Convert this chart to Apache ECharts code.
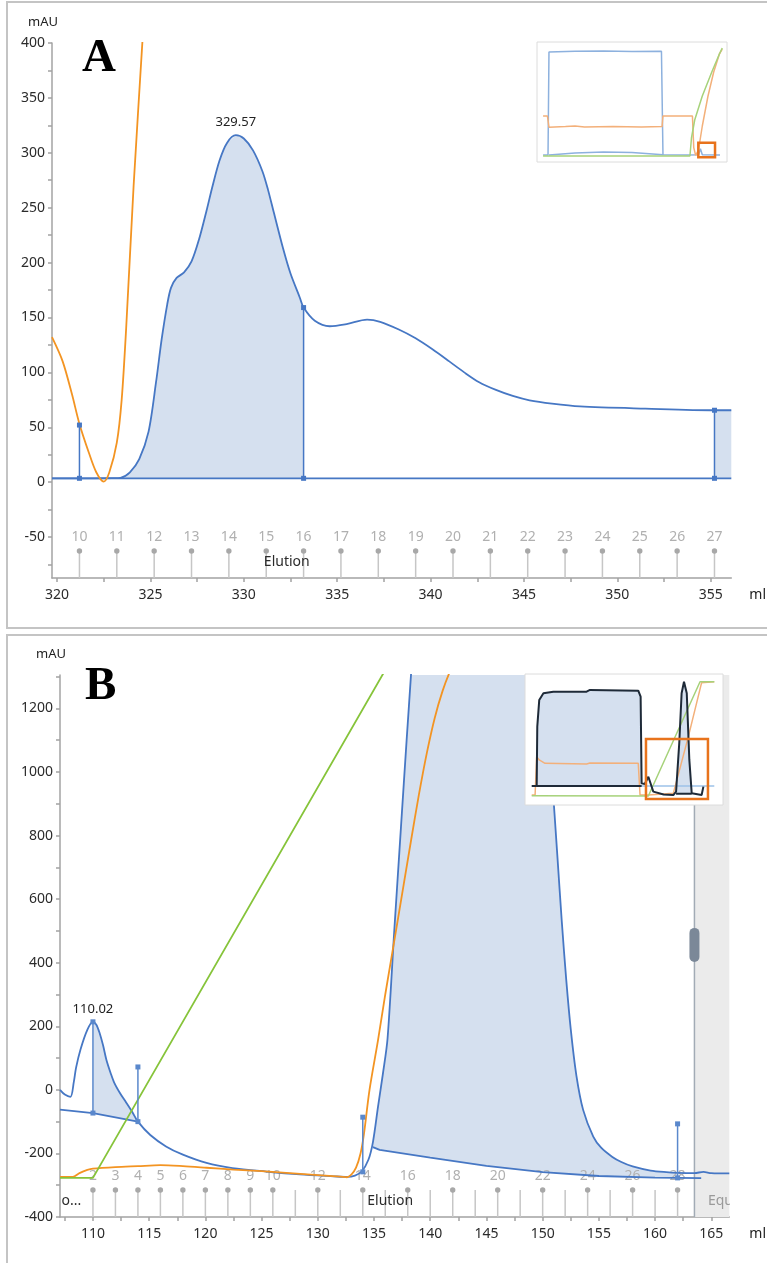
<!DOCTYPE html>
<html><head><meta charset="utf-8">
<script src="https://cdn.jsdelivr.net/npm/echarts@6/dist/echarts.min.js"></script>
<style>html,body{margin:0;padding:0;background:#fff}#c{width:767px;height:1263px}</style>
</head><body><div id="c"></div>
<script>
// ================= PANEL A DATA =================
const aUv = [[319.73,3.5],[321,3.5],[321.2,3.5],[322,3.5],[323,3.6],[323.4,4],[323.9,9],[324.4,21],[324.9,46],[325.3,91],[325.6,130],[325.9,162],[326.1,177],[326.4,186],[326.8,191],[327.2,201],[327.6,221],[328,247],[328.3,268],[328.7,293],[329.1,309],[329.57,316],[330,313],[330.5,302],[331,283],[331.3,266],[331.6,246],[332.1,213],[332.5,190],[333,168],[333.2,159],[333.8,147],[334.6,142],[335.5,144],[336.6,148],[337.3,146],[338.3,139],[339.2,131],[340.1,121],[341,110],[341.8,100],[342.6,91],[343.5,84],[344.4,78.5],[345.3,74.5],[346.5,71.5],[348,69],[351.5,67],[355.2,65.5],[356.1,65.5]];
const aBase = [[319.73,3.5],[321.2,3.5],[333.2,3.5],[355.2,3.5],[356.1,3.5]];
const aOrange = [[319.73,132],[320.3,110],[320.8,80],[321.2,53],[321.7,27],[322.1,9],[322.5,0.5],[322.8,9],[323.2,36],[323.46,75],[323.7,140],[324.1,270],[324.57,401],[324.7,440]];
const aFillRanges = [[321.2,333.2],[355.2,356.1]];
const aMarkers = [[321.2,3.5,52],[333.2,3.5,159],[355.2,3.5,65.5]];
const aPeakLabels = [[329.57,316,'329.57']];
const aFracX = [321.2,323.2,325.2,327.2,329.2,331.2,333.2,335.2,337.2,339.2,341.2,343.2,345.2,347.2,349.2,351.2,353.2,355.2];
const aFracLabels = ['10','11','12','13','14','15','16','17','18','19','20','21','22','23','24','25','26','27'];
const aPhases = [['Elution',332.3,'center']];
const aXLabels = [320,325,330,335,340,345,350,355];
const aXTicks = [320,322.5,325,327.5,330,332.5,335,337.5,340,342.5,345,347.5,350,352.5,355];
const aYLabels = [-50,0,50,100,150,200,250,300,350,400];
const aYTicks = [-75,-50,-25,0,25,50,75,100,125,150,175,200,225,250,275,300,325,350,375,400];

// inset A (overview, units = percent of inset box)
const insAblue = [[3.2,5.8],[5.8,5.8],[6.3,91.7],[7,92.5],[20,92.3],[35,92.6],[50,92],[65.5,92.3],[66.3,6],[80,5.8],[85,6],[86,11],[87,6],[96.3,5.8]];
const insAblueBase = [[6.3,5.8],[20,7.5],[35,8.3],[50,8],[66.3,6]];
const insAorange = [[3.2,38.3],[5.5,38.3],[6.3,29],[15,29.5],[20,30],[25,29.2],[40,29.5],[55,29.2],[65.8,29.5],[66.3,38.3],[81.8,38.3],[82.5,12],[83.5,5.5],[85,10],[87,30],[90,55],[93,75],[96,90],[97.5,94]];
const insAgreen = [[3.2,5],[80.5,5],[81.3,20],[83,35],[87,55],[92,75],[96,90],[97.5,95]];
const insArect = [[84.9,3.9,93.7,16.1]];

// ================= PANEL B DATA =================
const bUv = [[107.07,0],[107.5,-15],[108,-22],[108.3,25],[108.5,70],[108.9,128],[109.5,189],[110,214],[110.3,205],[110.6,178],[110.9,140],[111.2,94],[111.6,50],[111.9,22],[112.4,-10],[112.9,-37],[113.5,-70],[114,-100],[115.1,-142],[116.5,-178],[118,-204],[120.1,-230],[122.4,-246],[125.4,-257],[128.4,-266],[131.4,-272],[132.6,-274],[133.3,-270],[133.9,-257],[134.5,-220],[134.9,-165],[135.36,-52],[135.8,53],[136.2,160],[136.8,500],[137.4,828],[137.9,1100],[138.3,1311],[139,1700],[140,2100],[142,2500],[145,2650],[148,2300],[149.5,1700],[150.2,1305],[150.8,1000],[151.3,740],[151.7,530],[152.1,345],[152.5,190],[153,45],[153.6,-63],[154.5,-147],[155.2,-182],[156.2,-211],[157,-227],[158,-241],[159.6,-254],[161,-259],[162,-261],[163.5,-262],[164.3,-258],[165,-262],[166.6,-263]];
const bBase1 = [[107.07,-62],[110,-73],[114,-100]];
const bBase2 = [[134.9,-180],[135.5,-189],[140,-213],[145,-239],[150,-259],[155,-271],[160,-276],[162,-277],[164.1,-278]];
const bOrange = [[107.07,-274],[108.2,-274],[108.8,-262],[109.5,-252],[110,-248],[112,-243],[114,-240],[116,-237],[118,-240],[120.1,-245],[122.5,-251],[125,-256],[127.5,-262],[130,-268],[132,-273],[132.6,-275],[133,-266],[133.4,-245],[133.8,-200],[134.1,-140],[134.6,0],[135.36,157],[136,300],[137,510],[138.3,786],[139,930],[139.7,1060],[140.4,1170],[141.1,1255],[141.8,1320],[142.5,1370]];
const bGreen = [[107.07,-277],[110,-277],[137,1382]];
const bFillRanges = [[110,114,1],[134.9,162,2]];
const bMarkers = [[110,-73,214],[114,-100,72],[134,-258,-86],[162,-277,-107]];
const bPeakLabels = [[110,214,'110.02']];
const bFracX = [110,112,114,116,118,120,122,124,126,128,130,132,134,136,138,140,142,144,146,148,150,152,154,156,158,160,162];
const bFracLabels = ['2','3','4','5','6','7','8','9','10','','12','','14','','16','','18','','20','','22','','24','','26','','28'];
const bPhases = [['o...',107.2,'left'],['Elution',134.4,'left'],['Equ',164.7,'left']];
const bDivider = [[163.5,456]];
const bXLabels = [110,115,120,125,130,135,140,145,150,155,160,165];
const bXTicks = [107.5,110,112.5,115,117.5,120,122.5,125,127.5,130,132.5,135,137.5,140,142.5,145,147.5,150,152.5,155,157.5,160,162.5,165];
const bYLabels = [-400,-200,0,200,400,600,800,1000,1200];
const bYTicks = [-400,-300,-200,-100,0,100,200,300,400,500,600,700,800,900,1000,1100,1200,1300];

// inset B
const insBblack = [[3.4,14.5],[5.9,14.5],[6.2,59.8],[7.2,80.2],[9.3,85.3],[14.3,86.5],[31.1,86.5],[32.8,87.8],[57.2,87.3],[58.4,82.7],[58.9,16.5],[60.5,16],[62.3,21.6],[64.8,10.2],[70,8],[74.9,7.6],[76.3,10.2],[77.9,47.1],[79.1,85.3],[80.3,94.1],[81.7,85.3],[83,34.4],[84.2,8.9],[89.2,7.6],[90.1,14]];
const insBblackBase1 = [[5.9,14.5],[58.9,14.5]];
const insBblackBase2 = [[76.3,8.6],[84.2,8.6]];
const insBblue = [[3.4,14.5],[95.6,14.5]];
const insBorange = [[3.4,7.6],[5.1,7.6],[5.9,36.9],[7.2,34.4],[10.1,31.8],[31.1,31.3],[32.8,32],[57.2,31.8],[58.1,7.6],[62.3,7.6],[74.9,8.9],[82.5,52.2],[89.2,93.4],[95.6,94.1]];
const insBgreen = [[3.4,7.1],[62.3,6.9],[88.4,94.1],[95.6,94.1]];
const insBrect = [[61.1,4.6,92.4,50.4]];

// ================= STYLES =================
const FONT = 'Noto Sans';
const BLUE = '#4677c4';
const FILL = '#d5e0ef';
const ORANGE = '#f39422';
const GREEN = '#86c43a';
const AXIS = '#a3a3a3';

function inRange(arr, x0, x1){ return arr.filter(p => p[0] >= x0 - 1e-9 && p[0] <= x1 + 1e-9); }
function bandPoly(curve, base, x0, x1){ return inRange(curve, x0, x1).concat(inRange(base, x0, x1).reverse()); }

const aPolys = aFillRanges.map(r => bandPoly(aUv, aBase, r[0], r[1]));
const bPolys = bFillRanges.map(r => bandPoly(bUv, r[2] === 1 ? bBase1 : bBase2, r[0], r[1]));
const insBPolys = [bandPoly(insBblack, insBblackBase1, 5.9, 58.9), bandPoly(insBblack, insBblackBase2, 76.3, 84.2)];

function polySeries(idx, polys, fill, z){
  return {type:'custom', xAxisIndex:idx, yAxisIndex:idx, clip:true, z:z, silent:true,
    data: polys.map(p => p[0]),
    renderItem:(params, api) => ({type:'polygon', shape:{points: polys[params.dataIndex].map(p => api.coord(p))}, style:{fill:fill}})};
}
function lineSeries(idx, data, color, width, z, smooth){
  return {type:'line', xAxisIndex:idx, yAxisIndex:idx, data:data, showSymbol:false, symbol:'none', smooth:smooth||false, clip:true, silent:true,
    lineStyle:{color:color, width:width}, z:z};
}
function markerSeries(idx, list, color){
  return {type:'custom', xAxisIndex:idx, yAxisIndex:idx, clip:false, z:6, silent:true, data:list,
    renderItem:(params, api) => {
      const a = api.coord([api.value(0), api.value(1)]);
      const b = api.coord([api.value(0), api.value(2)]);
      return {type:'group', children:[
        {type:'line', shape:{x1:a[0], y1:a[1], x2:b[0], y2:b[1]}, style:{stroke:color, lineWidth:1.5}},
        {type:'rect', shape:{x:a[0]-2.5, y:a[1]-2.5, width:5, height:5}, style:{fill:color}},
        {type:'rect', shape:{x:b[0]-2.5, y:b[1]-2.5, width:5, height:5}, style:{fill:color}}
      ]};
    }};
}
function fracSeries(idx, xs, labels){
  return {type:'custom', xAxisIndex:idx, yAxisIndex:idx, clip:true, z:3, silent:true, data: xs.map(x => [x, 0]),
    renderItem:(params, api) => {
      const cs = params.coordSys; const bottom = cs.y + cs.height;
      const px = api.coord([api.value(0), 0])[0];
      const lab = labels[params.dataIndex];
      const ch = [{type:'line', shape:{x1:px, y1:bottom, x2:px, y2:bottom-27}, style:{stroke:'#c6c6c6', lineWidth:1.5}}];
      if (lab) {
        ch.push({type:'circle', shape:{cx:px, cy:bottom-27, r:2.7}, style:{fill:'#a8a8a8'}});
        ch.push({type:'text', style:{text:lab, x:px, y:bottom-41, align:'center', verticalAlign:'middle', fill:'#b0b0b0', font:'14px "' + FONT + '"'}});
      }
      return {type:'group', children:ch};
    }};
}
function phaseSeries(idx, phases, colors){
  return {type:'custom', xAxisIndex:idx, yAxisIndex:idx, clip:true, z:3, silent:true, data: phases.map(p => [p[1], 0]),
    renderItem:(params, api) => {
      const cs = params.coordSys; const bottom = cs.y + cs.height;
      const px = api.coord([api.value(0), 0])[0];
      const ph = phases[params.dataIndex];
      return {type:'text', style:{text:ph[0], x:px, y:bottom-16, align:ph[2], verticalAlign:'middle', fill:colors[params.dataIndex], font:'14px "' + FONT + '"'}};
    }};
}
function peakLabelSeries(idx, list){
  return {type:'custom', xAxisIndex:idx, yAxisIndex:idx, clip:false, z:6, silent:true, data:list.map(p => [p[0], p[1]]),
    renderItem:(params, api) => {
      const p = api.coord([api.value(0), api.value(1)]);
      return {type:'text', style:{text:list[params.dataIndex][2], x:p[0], y:p[1]-6, align:'center', verticalAlign:'bottom', fill:'#222', font:'13px "' + FONT + '"'}};
    }};
}
function rectSeries(idx, list, color, z){
  return {type:'custom', xAxisIndex:idx, yAxisIndex:idx, clip:false, z:z, silent:true, data:list,
    renderItem:(params, api) => {
      const a = api.coord([api.value(0), api.value(1)]);
      const b = api.coord([api.value(2), api.value(3)]);
      return {type:'rect', shape:{x:Math.min(a[0],b[0]), y:Math.min(a[1],b[1]), width:Math.abs(b[0]-a[0]), height:Math.abs(b[1]-a[1])}, style:{fill:'none', stroke:color, lineWidth:2.5}};
    }};
}
function insetFrame(idx){
  return {type:'custom', xAxisIndex:idx, yAxisIndex:idx, clip:false, z:8, silent:true, data:[[0,0]],
    renderItem:(params) => {
      const cs = params.coordSys;
      return {type:'rect', shape:{x:cs.x, y:cs.y, width:cs.width, height:cs.height}, style:{fill:'#fff', stroke:'#dcdcdc', lineWidth:1}};
    }};
}
function dividerSeries(idx, list){
  return {type:'custom', xAxisIndex:idx, yAxisIndex:idx, clip:false, z:1, silent:true, data:list,
    renderItem:(params, api) => {
      const cs = params.coordSys;
      const p = api.coord([api.value(0), api.value(1)]);
      return {type:'group', children:[
        {type:'rect', shape:{x:p[0], y:cs.y, width:cs.x + cs.width - p[0], height:cs.height}, style:{fill:'#ebebeb'}},
        {type:'line', shape:{x1:p[0], y1:cs.y, x2:p[0], y2:cs.y + cs.height}, style:{stroke:'#a2abb5', lineWidth:1.5}},
        {type:'rect', shape:{x:p[0]-5, y:p[1]-17, width:10, height:34, r:5}, style:{fill:'#7b8898'}}
      ]};
    }};
}

const labelStyle = {color:'#2b2b2b', fontSize:14, fontFamily:FONT, formatter:(v) => String(v)};
const lineSt = {color:AXIS, width:1.5};
function xAx(grid, min, max, labels, ticks, gap){
  return {gridIndex:grid, type:'value', min:min, max:max, name:'ml', nameLocation:'end', nameGap:gap,
    nameTextStyle:{color:'#222', fontSize:14, fontFamily:FONT, verticalAlign:'top', padding:[10,0,0,0]},
    axisLine:{onZero:false, lineStyle:lineSt}, axisTick:{customValues:ticks, length:4, lineStyle:lineSt},
    axisLabel:Object.assign({customValues:labels, margin:10}, labelStyle), splitLine:{show:false}};
}
function yAx(grid, min, max, labels, ticks){
  return {gridIndex:grid, type:'value', min:min, max:max, name:'mAU', nameLocation:'end', nameGap:14,
    nameTextStyle:{color:'#222', fontSize:13, fontFamily:FONT, align:'center', padding:[0,18,0,0]},
    axisLine:{onZero:false, lineStyle:lineSt}, axisTick:{customValues:ticks, length:4, lineStyle:lineSt},
    axisLabel:Object.assign({customValues:labels, margin:7}, labelStyle), splitLine:{show:false}};
}
function hiddenAx(grid){ return {gridIndex:grid, type:'value', min:0, max:100, show:false}; }

const option = {
  animation:false,
  backgroundColor:'#fff',
  grid:[
    {left:52, top:43, width:683, height:535},
    {left:60, top:675, width:670, height:542},
    {left:537, top:42, width:190, height:120},
    {left:525, top:674, width:198, height:131}
  ],
  xAxis:[ xAx(0, 319.73, 356.1, aXLabels, aXTicks, 18), xAx(1, 107.07, 166.6, bXLabels, bXTicks, 20), hiddenAx(2), hiddenAx(3) ],
  yAxis:[ yAx(0, -87.3, 400, aYLabels, aYTicks), yAx(1, -400, 1305, bYLabels, bYTicks), hiddenAx(2), hiddenAx(3) ],
  graphic:[
    {type:'rect', shape:{x:7, y:2, width:790, height:626}, style:{fill:'none', stroke:'#c4c4c4', lineWidth:2}, z:0},
    {type:'rect', shape:{x:7, y:635, width:790, height:700}, style:{fill:'none', stroke:'#c4c4c4', lineWidth:2}, z:0},
    {type:'text', style:{text:'A', x:82, y:59, verticalAlign:'middle', font:'bold 47px "Liberation Serif"', fill:'#000'}, z:20},
    {type:'text', style:{text:'B', x:85, y:687, verticalAlign:'middle', font:'bold 47px "Liberation Serif"', fill:'#000'}, z:20}
  ],
  series:[
    // ---- panel A ----
    polySeries(0, aPolys, FILL, 1.5),
    fracSeries(0, aFracX, aFracLabels),
    phaseSeries(0, aPhases, ['#2b2b2b']),
    lineSeries(0, aBase, BLUE, 1.8, 3),
    lineSeries(0, aUv, BLUE, 1.8, 4, 0.3),
    lineSeries(0, aOrange, ORANGE, 1.8, 4, 0.3),
    markerSeries(0, aMarkers, '#4677c4'),
    peakLabelSeries(0, aPeakLabels),
    // inset A
    insetFrame(2),
    lineSeries(2, insAblueBase, '#8db1de', 1.5, 9),
    lineSeries(2, insAblue, '#8db1de', 1.5, 9),
    lineSeries(2, insAorange, '#f3b07a', 1.5, 9),
    lineSeries(2, insAgreen, '#a6d27a', 1.5, 9),
    rectSeries(2, insArect, '#e8731c', 10),
    // ---- panel B ----
    dividerSeries(1, bDivider),
    polySeries(1, bPolys, FILL, 1.5),
    fracSeries(1, bFracX, bFracLabels),
    phaseSeries(1, bPhases, ['#2b2b2b','#2b2b2b','#9a9a9a']),
    lineSeries(1, bBase1, BLUE, 1.8, 3),
    lineSeries(1, bBase2, BLUE, 1.8, 3),
    lineSeries(1, bUv, BLUE, 1.8, 4, 0.3),
    lineSeries(1, bOrange, ORANGE, 1.8, 4, 0.3),
    lineSeries(1, bGreen, GREEN, 1.8, 4),
    markerSeries(1, bMarkers, '#5a88cc'),
    peakLabelSeries(1, bPeakLabels),
    // inset B
    insetFrame(3),
    polySeries(3, insBPolys, FILL, 9),
    lineSeries(3, insBblue, '#9cc2e8', 1.5, 9.5),
    lineSeries(3, insBorange, '#f3b07a', 1.5, 9.5),
    lineSeries(3, insBgreen, '#a6d27a', 1.5, 9.5),
    lineSeries(3, insBblackBase1, '#1e2a38', 2, 9.8),
    lineSeries(3, insBblackBase2, '#1e2a38', 2, 9.8),
    lineSeries(3, insBblack, '#1e2a38', 2, 9.8),
    rectSeries(3, insBrect, '#e8731c', 10)
  ]
};
const chart = echarts.init(document.getElementById('c'));
chart.setOption(option);
</script></body></html>
